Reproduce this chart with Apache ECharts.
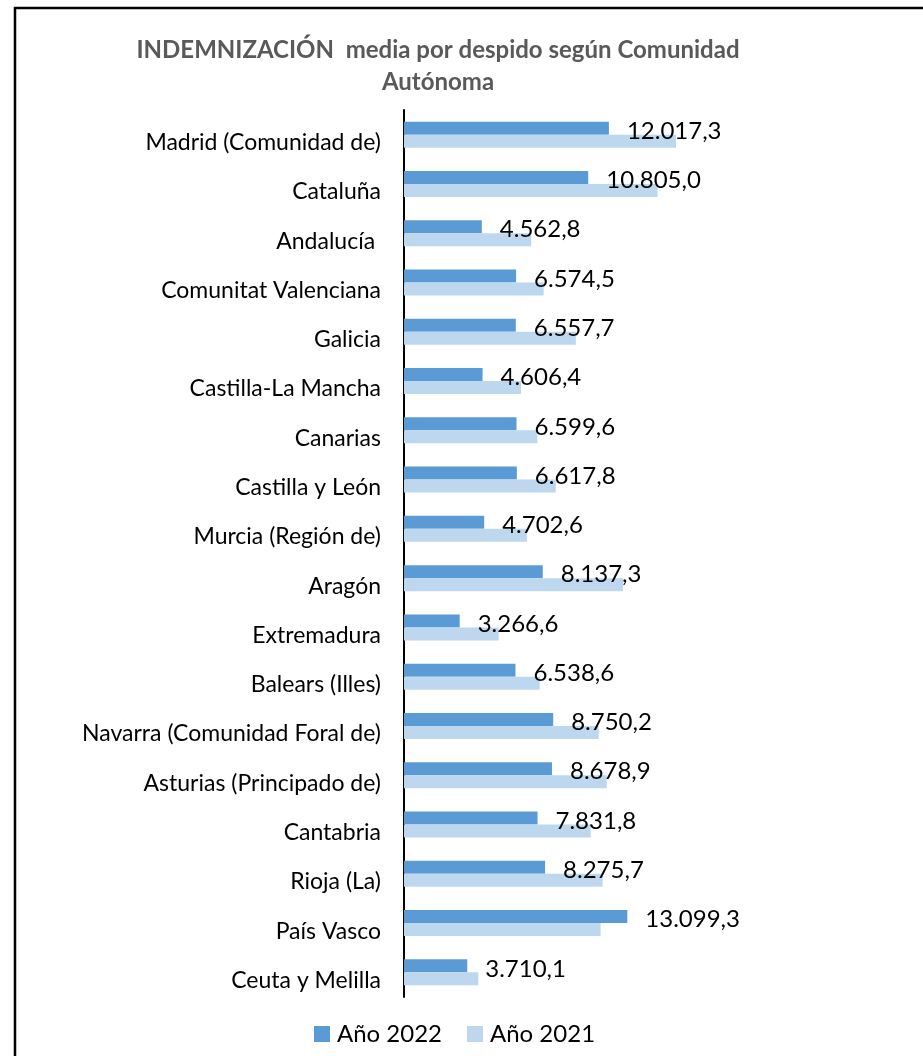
<!DOCTYPE html>
<html lang="es">

<head>
    <meta charset="UTF-8">
    <title>Indemnización media por despido</title>
    <script src="https://cdn.jsdelivr.net/npm/echarts@6/dist/echarts.min.js"></script>
    <style>
        * {
            margin: 0;
            padding: 0;
        }

        #main {
            width: 923px;
            height: 1056px;
            background: #fff;
        }
    </style>
</head>

<body>
    <div id="main"></div>
    <script>
        let comunidades = [
            'Madrid (Comunidad de)', 'Cataluña', 'Andalucía ', 'Comunitat Valenciana', 'Galicia',
            'Castilla-La Mancha', 'Canarias', 'Castilla y León', 'Murcia (Región de)', 'Aragón',
            'Extremadura', 'Balears (Illes)', 'Navarra (Comunidad Foral de)', 'Asturias (Principado de)',
            'Cantabria', 'Rioja (La)', 'País Vasco', 'Ceuta y Melilla'
        ];
        let anio2022 = [
            12017.3, 10805.0, 4562.8, 6574.5, 6557.7, 4606.4, 6599.6, 6617.8, 4702.6,
            8137.3, 3266.6, 6538.6, 8750.2, 8678.9, 7831.8, 8275.7, 13099.3, 3710.1
        ];
        // 2021 no lleva etiquetas, valores leidos de la longitud de la barra
        let anio2021 = [
            15950, 14870, 7460, 8190, 10080, 6860, 7820, 8900, 7210,
            12840, 5550, 7960, 11420, 11890, 10950, 11650, 11530, 4360
        ];
        let seriesNames = ['Año 2022', 'Año 2021'];

        // formato español: 12.017,3
        function fmt(v) {
            let parts = v.toFixed(1).split('.');
            return parts[0].replace(/\B(?=(\d{3})+(?!\d))/g, '.') + ',' + parts[1];
        }

        let font = 'Lato, "Open Sans", sans-serif';
        let myChart = echarts.init(document.getElementById('main'));

        let option = {
            animation: false,
            color: ['#5b9bd5', '#bdd7ee'],
            title: {
                text: 'INDEMNIZACIÓN  media por despido según Comunidad\nAutónoma',
                left: 433,
                top: 29,
                textAlign: 'center',
                textStyle: {
                    fontFamily: font,
                    fontSize: 24,
                    fontWeight: 'bold',
                    color: '#595959',
                    lineHeight: 32
                }
            },
            legend: {
                data: seriesNames,
                left: 309,
                top: 1017,
                itemWidth: 16,
                itemHeight: 16,
                itemGap: 25,
                icon: 'rect',
                textStyle: {
                    fontFamily: font,
                    fontSize: 24,
                    color: '#000',
                    padding: [0, 0, 0, 2]
                }
            },
            grid: {
                left: 404,
                top: 110,
                height: 887,
                width: 341,
                containLabel: false
            },
            xAxis: {
                type: 'value',
                min: 0,
                max: 20000,
                show: false
            },
            yAxis: {
                type: 'category',
                data: comunidades,
                inverse: true,
                axisLine: {
                    lineStyle: { color: '#000', width: 2 }
                },
                axisTick: { show: false },
                axisLabel: {
                    fontFamily: font,
                    fontSize: 23,
                    color: '#000',
                    margin: 23,
                    verticalAlign: 'top',
                    lineHeight: 16
                }
            },
            series: [{
                name: seriesNames[0],
                type: 'bar',
                data: anio2022,
                barWidth: 13,
                barGap: '0%',
                label: {
                    show: true,
                    position: 'right',
                    distance: 18,
                    offset: [0, 3],
                    fontFamily: font,
                    fontSize: 24,
                    color: '#000',
                    formatter: p => fmt(p.value)
                }
            }, {
                name: seriesNames[1],
                type: 'bar',
                data: anio2021,
                barWidth: 13,
                barGap: '0%'
            }],
            graphic: [{
                type: 'rect',
                shape: { x: 15, y: 8, width: 1000, height: 1100 },
                style: { fill: 'none', stroke: '#000', lineWidth: 2.5 },
                silent: true
            }]
        };

        myChart.setOption(option);
    </script>
</body>

</html>
